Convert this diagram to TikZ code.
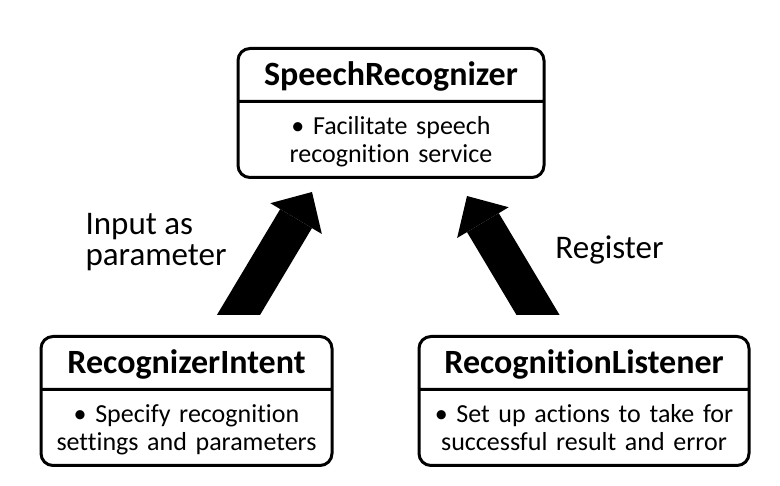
\documentclass[tikz,border=0pt]{standalone}
\usepackage{fontspec}
\setmainfont{Carlito}[Ligatures={NoCommon}]
\usepackage{tikz}
\usetikzlibrary{arrows.meta,calc,positioning,shapes.multipart}
\tikzstyle{classbox} = [rectangle split, rectangle split parts=2, draw, line width=3pt,
	rounded corners=12pt, align=center, inner xsep=0pt, inner ysep=0pt,
	font=\fontsize{26}{28}\selectfont]
\tikzstyle{bigArrow} = [line width=37pt, -{Triangle[width=60pt,length=31pt,line width=0pt]}]
\tikzstyle{arrowLabel} = [inner sep=0pt, align=left, font=\fontsize{33}{31}\selectfont]
\newcommand{\titlefont}{\fontsize{34}{30}\selectfont\bfseries}
\newcommand{\titlestrut}{\rule[-14pt]{0pt}{50pt}}	% Hoehe Kopfzeile
\newcommand{\bodytop}{\rule{0pt}{32pt}}
\newcommand{\bodybottom}{\rule[-13pt]{0pt}{13pt}}
\begin{document}
\begin{tikzpicture}[x=1pt,y=-1pt]
		\useasboundingbox (0,0) rectangle (780,486);
		\node[classbox, text width=306pt, anchor=north] (recognizer) at (391,47)
			{\titlefont\titlestrut SpeechRecognizer
			\nodepart{two}\bodytop• Facilitate speech\\recognition service\bodybottom};		% oben
		\node[classbox, text width=291pt, anchor=north] (intent) at (186.5,335)
			{\titlefont\titlestrut RecognizerIntent
			\nodepart{two}\bodytop• Specify recognition\\settings and parameters\bodybottom};	% links unten
		\node[classbox, text width=330pt, anchor=north] (listener) at (584,335)
			{\titlefont\titlestrut RecognitionListener
			\nodepart{two}\bodytop• Set up actions to take for\\successful result and error\bodybottom};	% rechts unten
		
		% Pfeile, unten waagrecht abgeschnitten
		\begin{scope}
		\clip (0,0) rectangle ($(listener.north east)+(0,-20)$);
		\draw[bigArrow] ($(intent.north)+(40,0)$) -- node[arrowLabel, pos=0.65, anchor=east, xshift=-37pt] {Input as\\parameter} ($(recognizer.south)+(-79,13)$);
		\draw[bigArrow] ($(listener.north)+(-34,0)$) -- node[arrowLabel, pos=0.615, anchor=west, xshift=38pt] {Register} ($(recognizer.south)+(76,17)$);
		\end{scope}
		
		\end{tikzpicture}
\end{document}
